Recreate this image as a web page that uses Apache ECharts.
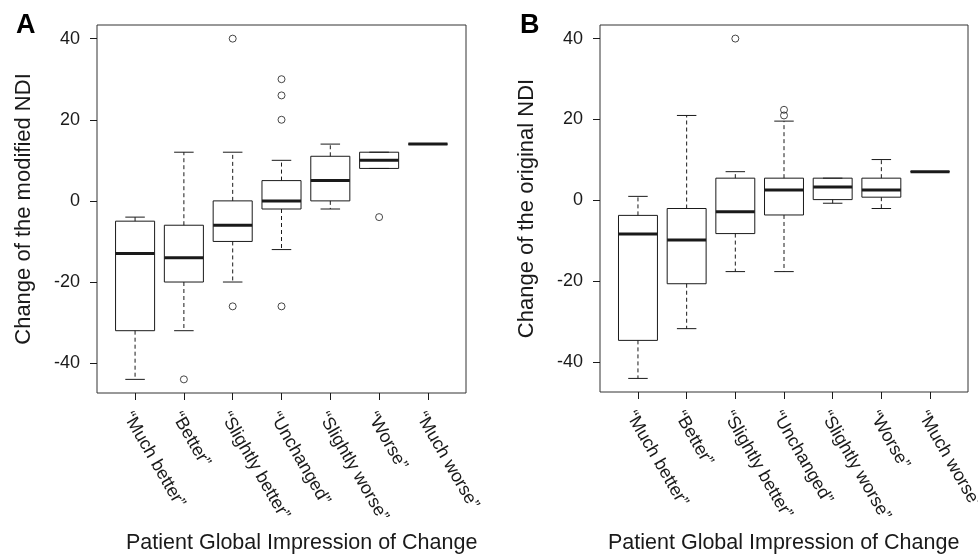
<!DOCTYPE html>
<html>
<head>
<meta charset="utf-8">
<script src="https://cdn.jsdelivr.net/npm/echarts@6/dist/echarts.min.js"></script>
<style>html,body{margin:0;padding:0;background:#fff}#c{width:978px;height:560px}</style>
</head>
<body>
<div id="c"></div>
<script>
// ---- data ----
const categories = ['“Much better”', '“Better”', '“Slightly better”', '“Unchanged”', '“Slightly worse”', '“Worse”', '“Much worse”'];
const yTicks = [-40, -20, 0, 20, 40];
// five-number summaries [lower whisker, Q1, median, Q3, upper whisker]
const boxesA = [
  [-44, -32, -13, -5, -4],
  [-32, -20, -14, -6, 12],
  [-20, -10, -6, 0, 12],
  [-12, -2, 0, 5, 10],
  [-2, 0, 5, 11, 14],
  [8, 8, 10, 12, 12],
  [14, 14, 14, 14, 14]
];
// outliers [category number (1-based), value]
const outliersA = [
  [2, -44],
  [3, 40], [3, -26],
  [4, 30], [4, 26], [4, 20], [4, -26],
  [6, -4]
];
const boxesB = [
  [-44, -34.6, -8.3, -3.7, 1],
  [-31.7, -20.6, -9.8, -2, 21],
  [-17.6, -8.2, -2.8, 5.5, 7.1],
  [-17.6, -3.6, 2.6, 5.5, 19.6],
  [-0.7, 0.2, 3.3, 5.5, 5.5],
  [-2, 0.8, 2.6, 5.5, 10.1],
  [7.1, 7.1, 7.1, 7.1, 7.1]
];
const outliersB = [
  [3, 40],
  [4, 22.4], [4, 21]
];
const yTitleA = 'Change of the modified NDI';
const yTitleB = 'Change of the original NDI';
const xTitle = 'Patient Global Impression of Change';

// ---- helpers ----
const FONT = '"Liberation Sans", Arial, Helvetica, sans-serif';
const INK = '#1a1a1a';

function extentOf(boxes, outs) {
  let lo = Infinity, hi = -Infinity;
  boxes.forEach(b => b.forEach(v => { lo = Math.min(lo, v); hi = Math.max(hi, v); }));
  outs.forEach(o => { lo = Math.min(lo, o[1]); hi = Math.max(hi, o[1]); });
  const pad = (hi - lo) * 0.04;
  return [lo - pad, hi + pad];
}

function renderBox(params, api) {
  const x = api.value(0);
  const lo = api.value(1), q1 = api.value(2), med = api.value(3), q3 = api.value(4), hi = api.value(5);
  const unit = api.size([1, 0])[0];
  const hw = unit * 0.4, sw = unit * 0.2;
  const pLo = api.coord([x, lo]), pQ1 = api.coord([x, q1]), pMed = api.coord([x, med]);
  const pQ3 = api.coord([x, q3]), pHi = api.coord([x, hi]);
  const cx = pMed[0];
  const dash = { stroke: INK, lineWidth: 1, lineDash: [4, 3], fill: null };
  const solid = { stroke: INK, lineWidth: 1, fill: null };
  const children = [];
  if (hi !== q3) children.push({ type: 'line', shape: { x1: cx, y1: pQ3[1], x2: cx, y2: pHi[1] }, style: dash });
  if (lo !== q1) children.push({ type: 'line', shape: { x1: cx, y1: pQ1[1], x2: cx, y2: pLo[1] }, style: dash });
  children.push({ type: 'line', shape: { x1: cx - sw, y1: pHi[1], x2: cx + sw, y2: pHi[1] }, style: solid });
  children.push({ type: 'line', shape: { x1: cx - sw, y1: pLo[1], x2: cx + sw, y2: pLo[1] }, style: solid });
  children.push({ type: 'rect', shape: { x: cx - hw, y: pQ3[1], width: hw * 2, height: pQ1[1] - pQ3[1] }, style: { stroke: INK, lineWidth: 1, fill: 'rgba(0,0,0,0)' } });
  children.push({ type: 'line', shape: { x1: cx - hw, y1: pMed[1], x2: cx + hw, y2: pMed[1] }, style: { stroke: INK, lineWidth: 3 } });
  return { type: 'group', children: children };
}

const catNums = categories.map((c, i) => i + 1);
const xMin = 0.5 - categories.length * 0.04;
const xMax = categories.length + 0.5 + categories.length * 0.04;

function makeX(gi) {
  return {
    type: 'value', gridIndex: gi, min: xMin, max: xMax, position: 'bottom',
    axisLine: { show: false, onZero: false },
    splitLine: { show: false },
    axisTick: { show: true, customValues: catNums, length: 7, lineStyle: { color: INK } },
    axisLabel: {
      show: true, customValues: catNums, rotate: -60, margin: 16,
      align: 'left', verticalAlign: 'top',
      fontFamily: FONT, fontSize: 18, color: INK,
      formatter: v => categories[Math.round(v) - 1] || ''
    }
  };
}
function makeY(gi, ext, name) {
  return {
    type: 'value', gridIndex: gi, min: ext[0], max: ext[1], position: 'left',
    axisLine: { show: false, onZero: false },
    splitLine: { show: false },
    axisTick: { show: true, customValues: yTicks, length: 7, lineStyle: { color: INK } },
    axisLabel: { show: true, customValues: yTicks, margin: 17, fontFamily: FONT, fontSize: 18, color: INK },
    name: name, nameLocation: 'middle', nameGap: 62, nameRotate: 90,
    nameTextStyle: { fontFamily: FONT, fontSize: 22, color: INK }
  };
}

const extA = extentOf(boxesA, outliersA);
const extB = extentOf(boxesB, outliersB);

const option = {
  animation: false,
  backgroundColor: '#fff',
  title: [
    { text: 'A', left: 11, top: 7, textStyle: { fontFamily: FONT, fontSize: 27, fontWeight: 'bold', color: '#000' } },
    { text: 'B', left: 515, top: 7, textStyle: { fontFamily: FONT, fontSize: 27, fontWeight: 'bold', color: '#000' } },
    { text: xTitle, left: 121, top: 527, textStyle: { fontFamily: FONT, fontSize: 21.5, fontWeight: 'normal', color: INK } },
    { text: xTitle, left: 603, top: 527, textStyle: { fontFamily: FONT, fontSize: 21.5, fontWeight: 'normal', color: INK } }
  ],
  grid: [
    { left: 97, top: 25, width: 369, height: 368, outerBoundsMode: 'none', containLabel: false, show: true, borderColor: '#333', borderWidth: 1, backgroundColor: 'transparent' },
    { left: 600, top: 25, width: 368, height: 367, outerBoundsMode: 'none', containLabel: false, show: true, borderColor: '#333', borderWidth: 1, backgroundColor: 'transparent' }
  ],
  xAxis: [makeX(0), makeX(1)],
  yAxis: [makeY(0, extA, yTitleA), makeY(1, extB, yTitleB)],
  series: [
    { type: 'custom', xAxisIndex: 0, yAxisIndex: 0, renderItem: renderBox,
      encode: { x: 0, y: [1, 2, 3, 4, 5] },
      data: boxesA.map((b, i) => [i + 1].concat(b)) },
    { type: 'scatter', xAxisIndex: 0, yAxisIndex: 0, data: outliersA, symbol: 'circle', symbolSize: 7,
      itemStyle: { color: 'rgba(255,255,255,0)', borderColor: INK, borderWidth: 1 } },
    { type: 'custom', xAxisIndex: 1, yAxisIndex: 1, renderItem: renderBox,
      encode: { x: 0, y: [1, 2, 3, 4, 5] },
      data: boxesB.map((b, i) => [i + 1].concat(b)) },
    { type: 'scatter', xAxisIndex: 1, yAxisIndex: 1, data: outliersB, symbol: 'circle', symbolSize: 7,
      itemStyle: { color: 'rgba(255,255,255,0)', borderColor: INK, borderWidth: 1 } }
  ]
};
const chart = echarts.init(document.getElementById('c'), null, { renderer: 'canvas' });
chart.setOption(option);
</script>
</body>
</html>
